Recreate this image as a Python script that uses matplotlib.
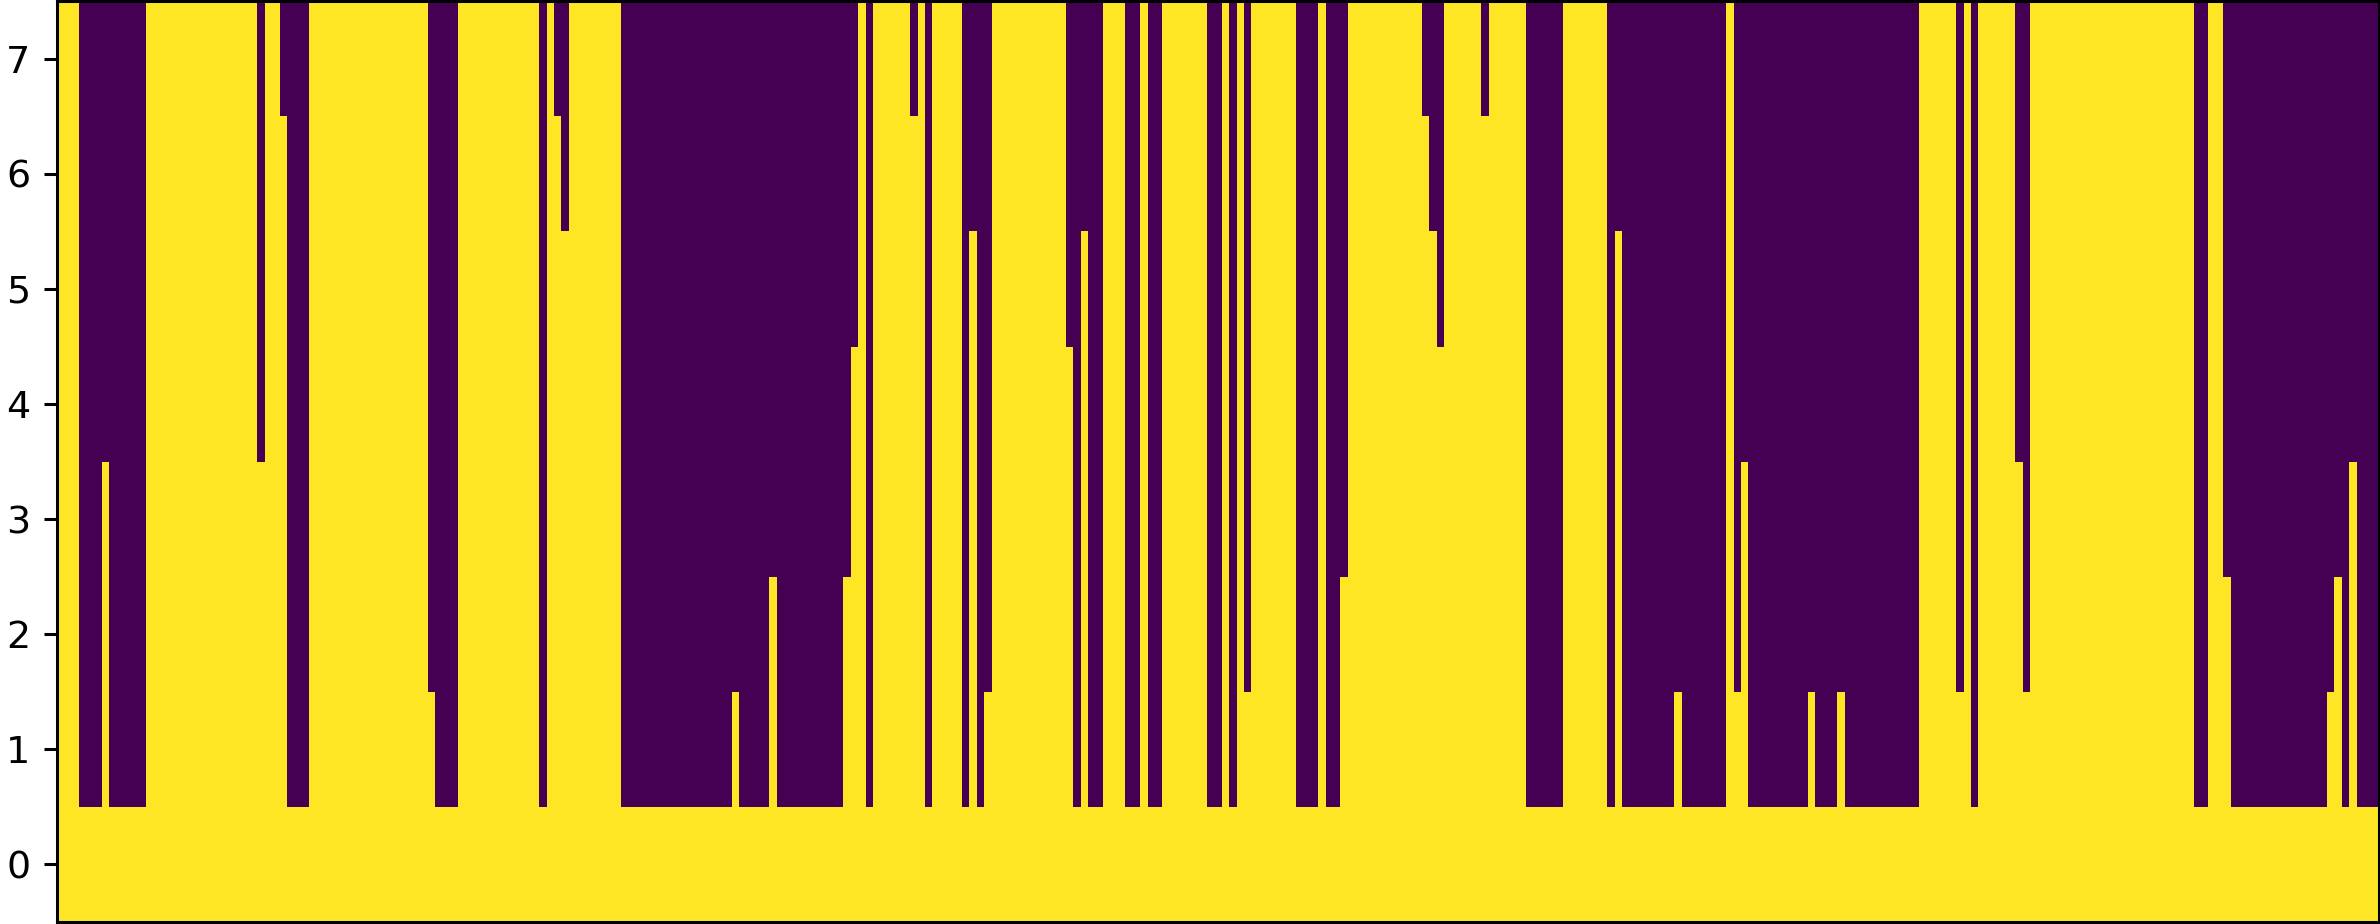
import numpy as np
import matplotlib
matplotlib.use("Agg")
import matplotlib.pyplot as plt

DPI = 200
OUT_FIG = "out.png"
SCALE = 1.37  # reference was drawn a bit larger than default sizes

# each column is yellow (1) from row 0 up to height-1, purple (0) above
# stored as runs of equal height, read left to right
RUN_LENGTHS = [3, 3, 1, 5, 15, 1, 2, 1, 3, 16, 1, 3, 11, 1, 1, 1, 1, 7, 15, 1,
               4, 1, 9, 1, 1, 1, 1, 5, 1, 1, 1, 4, 1, 1, 1, 1, 10, 1, 1, 1,
               2, 3, 2, 1, 2, 6, 2, 1, 1, 1, 1, 6, 3, 1, 2, 1, 10, 1, 1, 1,
               5, 1, 5, 5, 6, 1, 1, 7, 1, 6, 1, 1, 1, 8, 1, 3, 1, 10, 5, 1,
               1, 1, 5, 1, 1, 22, 2, 2, 1, 13, 1, 1, 1, 1, 3]
RUN_HEIGHTS = [8, 1, 4, 1, 8, 4, 8, 7, 1, 8, 2, 1, 8, 1, 8, 7, 6, 8, 1, 2,
               1, 3, 1, 3, 5, 8, 1, 8, 7, 8, 1, 8, 1, 6, 1, 2, 8, 5, 1, 6,
               1, 8, 1, 8, 1, 8, 1, 8, 1, 8, 2, 8, 1, 8, 1, 3, 8, 7, 6, 5,
               8, 7, 8, 1, 8, 1, 6, 1, 2, 1, 8, 2, 4, 1, 2, 1, 2, 1, 8, 2,
               8, 1, 8, 4, 2, 8, 1, 8, 3, 1, 2, 3, 1, 4, 1]
N_ROWS = 8
Y_TICKS = list(range(N_ROWS))


def build_matrix() -> np.ndarray:
    """expand the runs into the 0/1 grid"""
    heights = np.repeat(RUN_HEIGHTS, RUN_LENGTHS)
    rows = np.arange(N_ROWS)
    return (rows[:, None] < heights[None, :]).astype(int)


def main() -> int:
    grid = build_matrix()

    fig = plt.figure(figsize=(2380 / DPI, 924 / DPI), dpi=DPI)
    ax = fig.add_axes([57 / 2380, 2 / 924, 2322 / 2380, 921 / 924])
    ax.imshow(grid, cmap="viridis", origin="lower", aspect="auto",
              interpolation="nearest")
    ax.set_yticks(Y_TICKS)
    ax.set_xticks([])
    ax.tick_params(axis="y", labelsize=10 * SCALE, length=3.5 * SCALE,
                   width=0.8 * SCALE, pad=3.5 * SCALE)
    for spine in ax.spines.values():
        spine.set_linewidth(0.8 * SCALE)
    fig.savefig(OUT_FIG, dpi=DPI)
    plt.close(fig)
    return 0


if __name__ == "__main__":
    raise SystemExit(main())
